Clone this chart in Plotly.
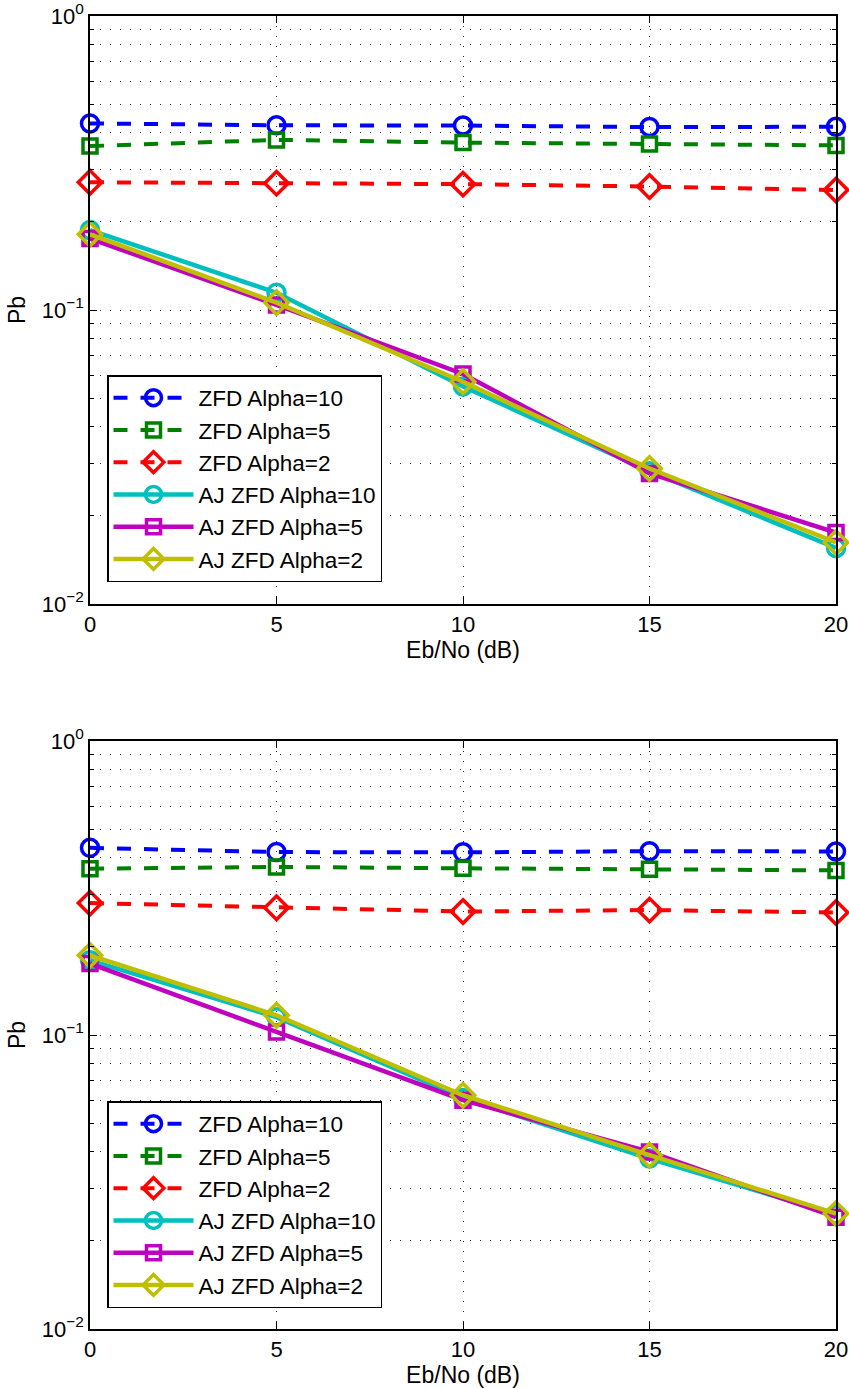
import plotly.graph_objects as go

# Eb/No sample points (dB)
ebno = [0, 5, 10, 15, 20]

# Upper panel: bit-error probability
zfd10_a = [0.431, 0.425, 0.424, 0.419, 0.420]
zfd5_a = [0.361, 0.379, 0.371, 0.367, 0.363]
zfd2_a = [0.272, 0.270, 0.268, 0.263, 0.256]
ajzfd10_a = [0.187, 0.1145, 0.0549, 0.0283, 0.0155]
ajzfd5_a = [0.175, 0.104, 0.0606, 0.0278, 0.0175]
ajzfd2_a = [0.181, 0.106, 0.0570, 0.0289, 0.0162]

# Lower panel: bit-error probability
zfd10_b = [0.433, 0.419, 0.418, 0.422, 0.421]
zfd5_b = [0.368, 0.373, 0.369, 0.366, 0.363]
zfd2_b = [0.281, 0.271, 0.263, 0.266, 0.261]
ajzfd10_b = [0.1795, 0.115, 0.0610, 0.038, 0.0245]
ajzfd5_b = [0.175, 0.1023, 0.060, 0.040, 0.0240]
ajzfd2_b = [0.1866, 0.1167, 0.0624, 0.039, 0.0247]

series_names = ["ZFD Alpha=10", "ZFD Alpha=5", "ZFD Alpha=2",
                "AJ ZFD Alpha=10", "AJ ZFD Alpha=5", "AJ ZFD Alpha=2"]
colors = ["rgb(0,0,255)", "rgb(0,128,0)", "rgb(255,0,0)",
          "rgb(0,191,191)", "rgb(191,0,191)", "rgb(191,191,0)"]
symbols = ["circle-open", "square-open", "diamond-open",
           "circle-open", "square-open", "diamond-open"]
msizes = [17, 14, 18, 17, 14, 18]
dashes = ["14px,13px"] * 3 + ["solid"] * 3
widths = [4, 4, 4, 4.5, 4.5, 4.5]

ytickvals = [0.01, 0.1, 1]
yticktext = ["10<sup>\u22122</sup>", "10<sup>\u22121</sup>", "10<sup>0</sup>"]
yminor = [m * 10 ** e for e in (-2, -1) for m in range(2, 10)]
xtickvals = [0, 5, 10, 15, 20]

FONT = "Liberation Sans, Arial, Helvetica, sans-serif"

fig = go.Figure()

panels = [
    ([zfd10_a, zfd5_a, zfd2_a, ajzfd10_a, ajzfd5_a, ajzfd2_a], "x", "y", "legend"),
    ([zfd10_b, zfd5_b, zfd2_b, ajzfd10_b, ajzfd5_b, ajzfd2_b], "x2", "y2", "legend2"),
]
for data, xa, ya, lg in panels:
    for i, vals in enumerate(data):
        fig.add_trace(go.Scatter(
            x=ebno, y=vals, name=series_names[i], mode="lines+markers",
            xaxis=xa, yaxis=ya, legend=lg, cliponaxis=False,
            line=dict(color=colors[i], width=widths[i], dash=dashes[i]),
            marker=dict(symbol=symbols[i], size=msizes[i], color=colors[i],
                        line=dict(color=colors[i], width=3.5)),
        ))

H, W = 1388, 849
mt, mb = 16, 59
ph = H - mt - mb
dom_top = [1 - 588 / ph, 1]
dom_bot = [0, 588 / ph]

grid_dash = "1px,9px"
grid_color = "rgb(40,40,40)"


def xaxis(anchor):
    return dict(
        anchor=anchor, domain=[0, 1], range=[0, 20], automargin=False,
        tickvals=xtickvals, ticks="inside", ticklen=7, tickcolor="black",
        showline=True, linecolor="black", linewidth=1.5, mirror="allticks",
        showgrid=True, gridcolor=grid_color, griddash=grid_dash, gridwidth=1,
        zeroline=False,
        tickfont=dict(family=FONT, size=22, color="black"),
        title=dict(text="Eb/No (dB)", font=dict(family=FONT, size=23, color="black"),
                   standoff=5),
    )


def yaxis(anchor, dom):
    return dict(
        anchor=anchor, domain=dom, type="log", range=[-2, 0], automargin=False,
        tickmode="array", tickvals=ytickvals, ticktext=yticktext,
        ticks="inside", ticklen=7, tickcolor="black",
        showline=True, linecolor="black", linewidth=1.5, mirror="allticks",
        showgrid=True, gridcolor=grid_color, griddash=grid_dash, gridwidth=1,
        minor=dict(tickmode="array", tickvals=yminor, ticks="inside", ticklen=4,
                   tickcolor="black", showgrid=True, gridcolor=grid_color,
                   griddash=grid_dash, gridwidth=1),
        zeroline=False,
        tickfont=dict(family=FONT, size=22, color="black"),
        title=dict(text="Pb", font=dict(family=FONT, size=23, color="black"),
                   standoff=10),
    )


def legend_box(y_bottom):
    return dict(
        x=17 / (W - 90 - 13), y=y_bottom, xanchor="left", yanchor="bottom",
        bgcolor="white", bordercolor="black", borderwidth=1.5,
        font=dict(family=FONT, size=22.5, color="black"),
        itemwidth=80, tracegroupgap=0,
    )


fig.update_layout(
    width=W, height=H,
    margin=dict(l=90, r=13, t=mt, b=mb),
    paper_bgcolor="white", plot_bgcolor="white",
    showlegend=True,
    xaxis=xaxis("y"),
    yaxis=yaxis("x", dom_top),
    xaxis2=xaxis("y2"),
    yaxis2=yaxis("x2", dom_bot),
    legend=legend_box(dom_top[0] + (604 - 582) / ph),
    legend2=legend_box((1329 - 1308) / ph),
)

fig.write_html("out.html")
